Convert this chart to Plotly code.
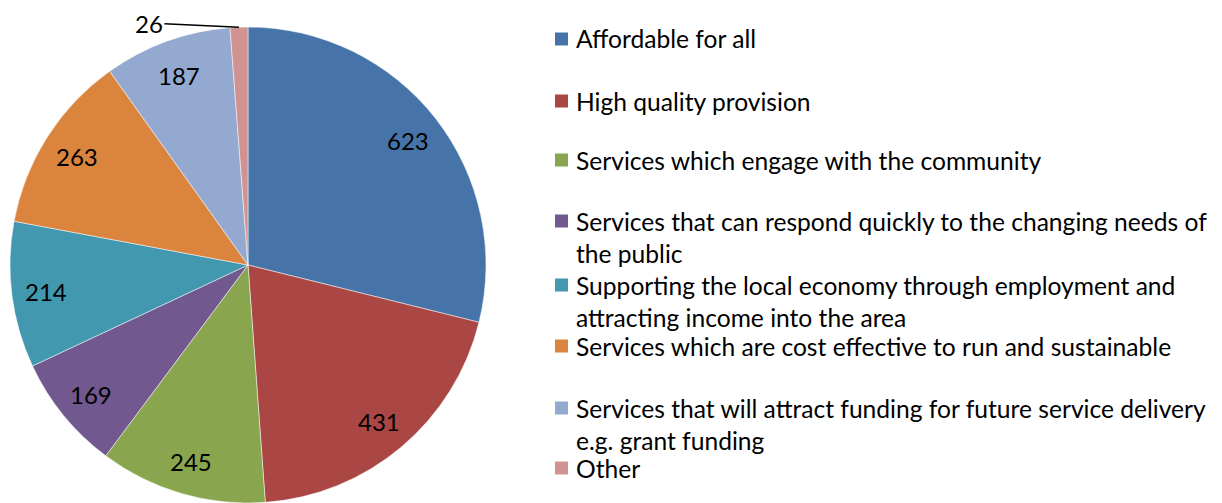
import math
import plotly.graph_objects as go

categories = [
    "Affordable for all",
    "High quality provision",
    "Services which engage with the community",
    "Services that can respond quickly to the changing needs of the public",
    "Supporting the local economy through employment and attracting income into the area",
    "Services which are cost effective to run and sustainable",
    "Services that will attract funding for future service delivery e.g. grant funding",
    "Other",
]
values = [623, 431, 245, 169, 214, 263, 187, 26]
legend_lines = [
    ["Affordable for all"],
    ["High quality provision"],
    ["Services which engage with the community"],
    ["Services that can respond quickly to the changing needs of", "the public"],
    ["Supporting the local economy through employment and", "attracting income into the area"],
    ["Services which are cost effective to run and sustainable"],
    ["Services that will attract funding for future service delivery", "e.g. grant funding"],
    ["Other"],
]
colors = ["#4674A8", "#AA4644", "#89A54E", "#71588F", "#4198AF", "#DB843D", "#93A9CF", "#D19392"]

# page is rendered with an 8px body margin: work in page pixels, convert to figure
OFF = 8
W, H = 1222 - OFF, 503 - OFF
FONT = "Lato"
FS = 24
FS_LEG = 24.6


def fx(px):
    return (px - OFF) / W


def fy(py):
    return 1 - (py - OFF) / H


# pie geometry (page pixels)
cx, cy, r = 248, 266, 239
dom_x = [fx(cx - r), fx(cx + r)]
y_top = fy(cy - r)
dom_y = [max(0.0, y_top - 2 * r / H), y_top]

fig = go.Figure()
fig.add_trace(go.Pie(
    labels=categories,
    values=values,
    sort=False,
    direction="clockwise",
    rotation=0,
    marker=dict(colors=colors, line=dict(color="white", width=0.5)),
    textinfo="none",
    domain=dict(x=dom_x, y=dom_y),
    showlegend=False,
    hoverinfo="label+value",
))

annotations = []
shapes = []

total = sum(values)
k_label = 0.85
cum = 0
for i, v in enumerate(values):
    mid = (cum + v / 2) / total * 2 * math.pi
    cum += v
    if i < len(values) - 1:
        lx = cx + k_label * r * math.sin(mid)
        ly = cy - k_label * r * math.cos(mid)
        annotations.append(dict(
            x=fx(lx), y=fy(ly), xref="paper", yref="paper",
            text=str(v), showarrow=False, xanchor="center", yanchor="middle",
            font=dict(family=FONT, size=FS, color="black"),
        ))
    else:
        px = cx + r * math.sin(mid)
        py = cy - r * math.cos(mid)
        annotations.append(dict(
            x=fx(px), y=fy(py), xref="paper", yref="paper",
            text=str(v), showarrow=True, arrowhead=0, arrowwidth=1.5,
            arrowcolor="black", ax=-90, ay=-4, standoff=0,
            font=dict(family=FONT, size=FS, color="black"),
        ))

# manual legend
row_y = [39, 101, 160, 221, 285, 346, 408, 468]
line_gap = 32
sq_x0, sq_size, txt_x = 555, 13, 574
for i, lines in enumerate(legend_lines):
    y0 = row_y[i]
    shapes.append(dict(
        type="rect", xref="paper", yref="paper",
        x0=fx(sq_x0), x1=fx(sq_x0 + sq_size),
        y0=fy(y0 + sq_size / 2), y1=fy(y0 - sq_size / 2),
        fillcolor=colors[i], line=dict(width=0),
    ))
    for j, t in enumerate(lines):
        annotations.append(dict(
            x=fx(txt_x), y=fy(y0 + j * line_gap), xref="paper", yref="paper",
            xanchor="left", yanchor="middle", text=t, showarrow=False,
            font=dict(family=FONT, size=FS_LEG, color="black"),
        ))

fig.update_layout(
    width=W, height=H,
    margin=dict(l=0, r=0, t=0, b=0),
    paper_bgcolor="white", plot_bgcolor="white",
    annotations=annotations, shapes=shapes,
)
fig.write_html("out.html")
